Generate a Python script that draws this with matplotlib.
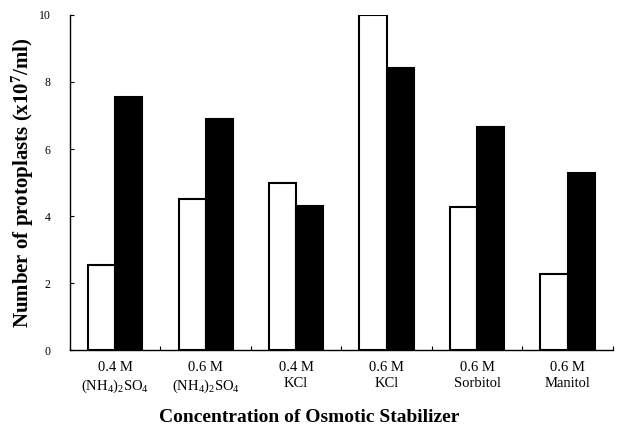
import matplotlib
matplotlib.use("Agg")
import matplotlib.pyplot as plt
import numpy as np

categories = ["0.4 M\n(NH$_4$)$_2$SO$_4$", "0.6 M\n(NH$_4$)$_2$SO$_4$", "0.4 M\nKCl",
              "0.6 M\nKCl", "0.6 M\nSorbitol", "0.6 M\nManitol"]
white_values = [2.55, 4.5, 5.0, 10.0, 4.27, 2.28]
black_values = [7.55, 6.9, 4.3, 8.42, 6.66, 5.27]
yticks = [0, 2, 4, 6, 8, 10]

plt.rcParams['font.family'] = ['Liberation Serif', 'DejaVu Serif']
plt.rcParams['mathtext.fontset'] = 'custom'
plt.rcParams['mathtext.rm'] = 'Liberation Serif'
plt.rcParams['mathtext.it'] = 'Liberation Serif:italic'
plt.rcParams['mathtext.bf'] = 'Liberation Serif:bold'

fig = plt.figure(figsize=(6.19, 4.26), dpi=100)
ax = fig.add_axes([0.113, 0.178, 0.877, 0.787])

x = np.arange(len(categories))
w = 0.3
ax.bar(x - w/2, white_values, w, facecolor='white', edgecolor='black', linewidth=1.5)
ax.bar(x + w/2, black_values, w, facecolor='black', edgecolor='black', linewidth=1.5)

ax.set_xlim(-0.5, len(categories) - 0.5)
ax.set_ylim(0, 10)
ax.set_yticks(yticks)
ax.set_yticklabels([str(t) for t in yticks], fontsize=8.5)
ax.set_xticks(np.arange(-0.5, len(categories), 1.0))
ax.set_xticklabels([])
ax.set_xticks(x, minor=True)
ax.set_xticklabels(categories, minor=True, fontsize=10.5, linespacing=1.3)
ax.tick_params(axis='x', which='minor', length=0, pad=8)
ax.tick_params(axis='x', which='major', direction='in', length=3)
ax.tick_params(axis='y', direction='in', length=3, pad=14)

for s in ['top', 'right']:
    ax.spines[s].set_visible(False)
ax.spines['left'].set_linewidth(1.0)
ax.spines['bottom'].set_linewidth(1.0)

ax.set_ylabel(r"Number of protoplasts (x10$^{\mathbf{7}}$/ml)", fontsize=15, fontweight='bold')
ax.yaxis.set_label_coords(-0.062, 0.5)
ax.set_xlabel("Concentration of Osmotic Stabilizer", fontsize=14, fontweight='bold')
ax.xaxis.set_label_coords(0.44, -0.175)

fig.savefig("out.png", dpi=100)
